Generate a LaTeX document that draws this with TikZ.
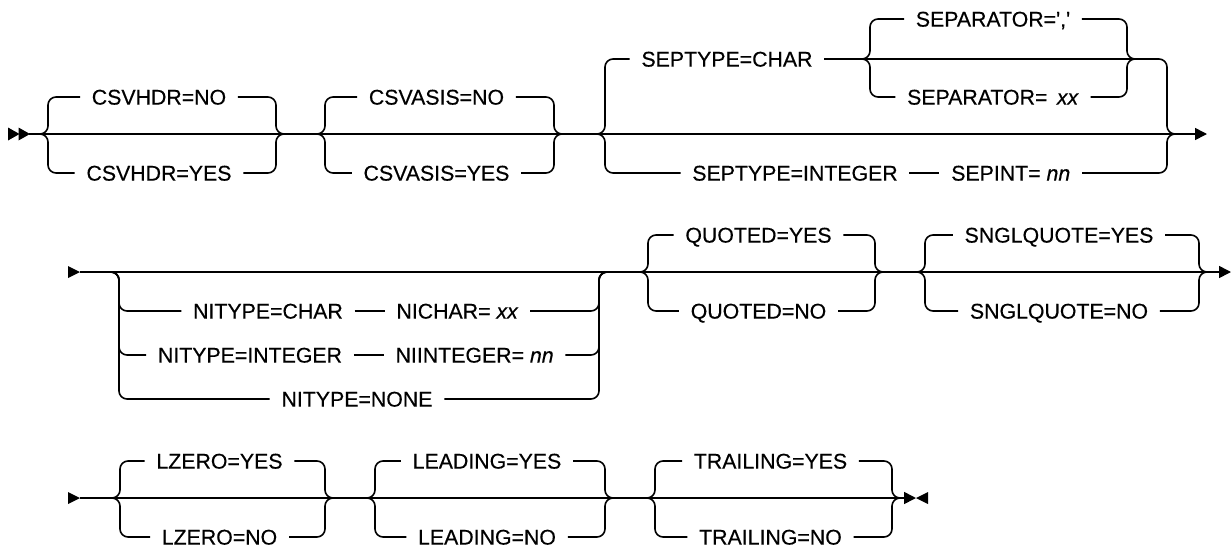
\documentclass[tikz,border=0pt]{standalone}
\usepackage{fontspec}
\setmainfont{Liberation Sans}[Ligatures=TeXOff, FakeBold=0.4]
\usetikzlibrary{arrows.meta, positioning}

\begin{document}
\begin{tikzpicture}[x=1pt, y=-1pt, line width=1.6pt,
  rail/.style={rounded corners=8pt},
  opt/.style={inner xsep=11pt, inner ysep=0pt, text height=15.2pt, text depth=0pt,
    font=\fontsize{21.3}{24}\selectfont},
  endtip/.style={-{Triangle[length=12pt, width=12pt]}},
  node distance=30pt]
  \useasboundingbox (0,0) rectangle (1232,547);

  % Row 1 -- main line with double start mark
  \fill (8,127.5) -- (19.5,134) -- (8,140.5) -- cycle;
  \fill (18.5,127.5) -- (30,134) -- (18.5,140.5) -- cycle;
  \coordinate (r1s) at (29,134);
  \coordinate (r1e) at (1207,134);
  \draw[endtip] (r1s) -- (r1e);

  % Row 2 -- main line
  \fill (68,266) -- (80,272) -- (68,278) -- cycle;
  \coordinate (r2s) at (80,272);
  \coordinate (r2e) at (1231,272);
  \draw[endtip] (r2s) -- (r2e);

  % Row 3 -- main line with end mark
  \fill (68,492) -- (80,498) -- (68,504) -- cycle;
  \coordinate (r3s) at (80,498);
  \coordinate (r3e) at (916,498);
  \draw[endtip] (r3s) -- (r3e);
  \fill (928,492) -- (916,498) -- (928,504) -- cycle;

  % Two-way choices
  \foreach \g/\xl/\xr/\yc/\ta/\tb in {
    hdr/40/284/134/CSVHDR=NO/CSVHDR=YES,
    asis/317/562/134/CSVASIS=NO/CSVASIS=YES,
    quo/640/883/272/QUOTED=YES/QUOTED=NO,
    sgl/917/1207/272/SNGLQUOTE=YES/SNGLQUOTE=NO,
    lz/112/333/498/LZERO=YES/LZERO=NO,
    lead/367/613/498/LEADING=YES/LEADING=NO,
    trail/647/900/498/TRAILING=YES/TRAILING=NO}{
    \coordinate (\g-L) at (\xl,\yc);
    \coordinate (\g-R) at (\xr,\yc);
    \node[opt] (\g-top) at ({(\xl+\xr)/2-3},\yc-37) {\ta};
    \node[opt] (\g-bot) at ({(\xl+\xr)/2-3},\yc+39) {\tb};
    \draw[rail] (\g-L) -- ++(8,0) |- (\g-top.west);
    \draw[rail] (\g-L) -- ++(8,0) |- (\g-bot.west);
    \draw[rail] (\g-top.east) -| ([xshift=-8pt]\g-R) -- (\g-R);
    \draw[rail] (\g-bot.east) -| ([xshift=-8pt]\g-R) -- (\g-R);
  }

  % SEPTYPE choice with nested SEPARATOR choice
  \coordinate (sepL) at (597,134);
  \coordinate (sepR) at (1175,134);
  \node[opt] (sepchar) at (727,59) {SEPTYPE=CHAR};
  \coordinate (chL) at (862,59);
  \coordinate (chR) at (1135,59);
  \node[opt] (sepcomma) at (993,19) {SEPARATOR=','};
  \node[opt] (sepxx) at (993,97) {SEPARATOR=\ \,\textit{xx}};
  \node[opt] (sepinteger) at (795,173) {SEPTYPE=INTEGER};
  \node[opt, right=of sepinteger] (sepint) {SEPINT= \textit{nn}};
  \draw[rail] (sepL) -- ++(8,0) |- (sepchar.west);
  \draw (sepchar.east) -- (chL);
  \draw (chL) -- (chR);
  \draw[rail] (chL) -- ++(8,0) |- (sepcomma.west);
  \draw[rail] (chL) -- ++(8,0) |- (sepxx.west);
  \draw[rail] (sepcomma.east) -| ([xshift=-8pt]chR) -- (chR);
  \draw[rail] (sepxx.east) -| ([xshift=-8pt]chR) -- (chR);
  \draw[rail] (chR) -| ([xshift=-8pt]sepR) -- (sepR);
  \draw[rail] (sepL) -- ++(8,0) |- (sepinteger.west);
  \draw (sepinteger.east) -- (sepint.west);
  \draw[rail] (sepint.east) -| ([xshift=-8pt]sepR) -- (sepR);

  % NITYPE choice below the main line
  \coordinate (niL) at (111,272);
  \coordinate (niR) at (607,272);
  \node[opt] (nichar) at (268,311) {NITYPE=CHAR};
  \node[opt, right=of nichar] (nicharval) {NICHAR= \textit{xx}};
  \node[opt] (niinteger) at (250,355) {NITYPE=INTEGER};
  \node[opt, right=of niinteger] (niintval) {NIINTEGER= \textit{nn}};
  \node[opt] (ninone) at (357,399) {NITYPE=NONE};
  \draw[rail] (niL) -- ++(8,0) |- (nichar.west);
  \draw[rail] (niL) -- ++(8,0) |- (niinteger.west);
  \draw[rail] (niL) -- ++(8,0) |- (ninone.west);
  \draw (nichar.east) -- (nicharval.west);
  \draw (niinteger.east) -- (niintval.west);
  \draw[rail] (nicharval.east) -| ([xshift=-8pt]niR) -- (niR);
  \draw[rail] (niintval.east) -| ([xshift=-8pt]niR) -- (niR);
  \draw[rail] (ninone.east) -| ([xshift=-8pt]niR) -- (niR);
\end{tikzpicture}
\end{document}
